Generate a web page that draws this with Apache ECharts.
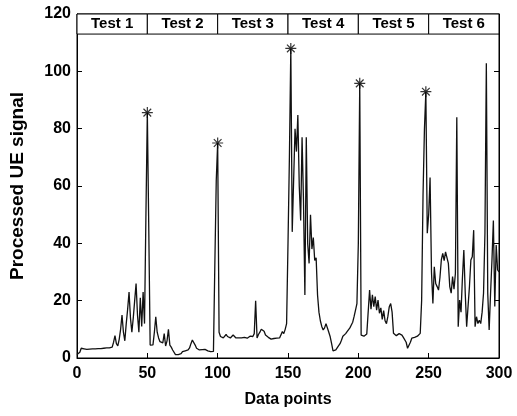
<!DOCTYPE html>
<html>
<head>
<meta charset="utf-8">
<script src="https://cdn.jsdelivr.net/npm/echarts@6/dist/echarts.min.js"></script>
<style>
html,body{margin:0;padding:0;background:#fff;}
#c{width:517px;height:416px;}
</style>
</head>
<body>
<div id="c"></div>
<script>
// Processed UE signal, one value per data point (index 0..300)
var signal = [
  // 0-52 (Test 1)
  1.2,1.5,2.0,3.4,3.8,3.2,2.9,3.0,3.1,3.1,
  3.2,3.2,3.3,3.2,3.3,3.3,3.4,3.3,3.4,3.4,
  3.4,3.5,3.4,3.5,3.6,3.8,5.5,7.8,5.0,4.2,
  6.5,10,15,9,6,12,17,23,14,9,
  14,20,26,15,9,21,11,23,12,50,
  85.6,46,4.5,
  // 53-100 (Test 2)
  4.3,4.6,9,14.4,9,7,5.7,6,5.3,8.5,
  4.2,6,10,4.5,3.8,2.8,2.2,1.2,0.6,1.2,
  1.6,1.5,2.2,2.0,2.5,2.4,2.8,3.5,5,6.3,
  6.2,4.5,3.4,3.0,2.8,3.0,2.9,3.0,3.0,2.7,
  2.5,2.3,2.2,2.2,2.3,33,62,75,
  // 101-148 (Test 3)
  9,7.5,7.2,7.0,7.6,8.2,7.5,7.3,7.0,7.2,
  8.0,7.6,7.0,6.8,7.0,6.9,7.0,6.8,7.2,7.0,
  6.9,7.3,7.6,7.0,7.5,8.5,20,7,8.2,9,
  10,10.5,9.3,8,7.5,7.2,6.8,6.6,6.5,6.8,
  6.6,6.9,7.2,7.0,7.6,9.2,8.5,10,
  // 149-202 (Test 4)
  12,40,70,108,44,62,80,72,84.8,60,
  48,77,55,22,77,40,33,50,38,42,
  34,35,22,16,13,11,9.8,10.5,12,12.3,
  9,7.4,5,2.5,2.2,2.8,3.4,4.3,5,6.2,
  7.6,8,8.5,9.2,9.5,10.5,11.5,12.5,14.5,16.7,
  19,40,95.8,8,
  // 203-248 (Test 5)
  7.4,7.6,8,8.4,8.6,23.7,17,22,17.9,21.4,
  16.7,20.2,15.6,17.5,13.5,16.5,13,12,14.5,17.9,
  19,16,8.6,8,7.8,8.2,8.5,8.6,8,7.2,
  6.9,5.5,3.4,3,5.5,6.9,7,7.2,7.4,7.6,
  8,8.6,20,57,80,92.9,
  // 249-300 (Test 6)
  43.5,50,63,30,19,31.8,26,24.9,23.7,28,
  34.2,36.5,34,37,35,33,24.9,22.6,28.4,24,
  29.5,84,10.9,20.2,16,28,37.7,22.6,10.9,18,
  25,34.2,35.3,44.6,10.9,14.4,12,13.2,12,16,
  22.6,43.5,102.8,22.6,9.8,22.6,34.2,48,18,39.4,
  30.7,30
];
// starred peaks
var peakX = [50, 100, 152, 201, 248];
var peakY = [85.6, 75, 108, 95.8, 92.9];
// test bands across the top
var testNames = ['Test 1','Test 2','Test 3','Test 4','Test 5','Test 6'];
var testStart = [0, 50, 100, 150, 200, 250];
var testEnd = [50, 100, 150, 200, 250, 300];
var bandLow = 113, bandHigh = 120;
var xTicks = [0, 300, 50];
var yTicks = [0, 120, 20];

var FONT = '"Liberation Sans", Arial, Helvetica, sans-serif';
var lineData = signal.map(function (v, i) { return [i, v]; });
var peakData = peakX.map(function (x, i) { return [x, peakY[i]]; });
var bands = testNames.map(function (n, i) {
  return [{ name: n, xAxis: testStart[i], yAxis: bandLow }, { xAxis: testEnd[i], yAxis: bandHigh }];
});

var chart = echarts.init(document.getElementById('c'), null, { renderer: 'canvas' });
chart.setOption({
  animation: false,
  backgroundColor: '#fff',
  grid: { left: 77, right: 18, top: 14, bottom: 58, show: true, borderColor: '#000', borderWidth: 1, backgroundColor: 'transparent' },
  xAxis: {
    type: 'value', min: xTicks[0], max: xTicks[1], interval: xTicks[2],
    name: 'Data points', nameLocation: 'middle', nameGap: 34,
    nameTextStyle: { fontFamily: FONT, fontSize: 16, fontWeight: 'bold', color: '#000' },
    axisLine: { show: true, lineStyle: { color: '#000', width: 1 } },
    axisTick: { show: true, inside: true, length: 5, lineStyle: { color: '#000' } },
    axisLabel: { fontFamily: FONT, fontSize: 16, fontWeight: 'bold', color: '#000', margin: 8 },
    splitLine: { show: false }
  },
  yAxis: [{
    type: 'value', min: yTicks[0], max: yTicks[1], interval: yTicks[2],
    name: 'Processed UE signal', nameLocation: 'middle', nameGap: 50,
    nameTextStyle: { fontFamily: FONT, fontSize: 19, fontWeight: 'bold', color: '#000' },
    axisLine: { show: true, lineStyle: { color: '#000', width: 1 } },
    axisTick: { show: true, inside: true, length: 5, lineStyle: { color: '#000' } },
    axisLabel: { fontFamily: FONT, fontSize: 16, fontWeight: 'bold', color: '#000', margin: 6 },
    splitLine: { show: false }
  }, {
    type: 'value', position: 'right', min: yTicks[0], max: yTicks[1], interval: yTicks[2],
    axisLine: { show: true, lineStyle: { color: '#000', width: 1 } },
    axisTick: { show: true, inside: true, length: 5, lineStyle: { color: '#000' } },
    axisLabel: { show: false },
    splitLine: { show: false }
  }],
  series: [{
    type: 'line',
    data: lineData,
    showSymbol: false,
    symbol: 'none',
    lineStyle: { color: '#111', width: 1.3 },
    z: 3,
    markArea: {
      silent: true,
      itemStyle: { color: '#fff', borderColor: '#000', borderWidth: 1 },
      label: { show: true, position: 'inside', fontFamily: FONT, fontSize: 15, fontWeight: 'bold', color: '#000' },
      data: bands
    }
  }, {
    type: 'scatter',
    data: peakData,
    symbol: 'path://M0,5L10,5M5,0L5,10M1.5,1.5L8.5,8.5M8.5,1.5L1.5,8.5',
    symbolSize: 11,
    itemStyle: { color: 'none', borderColor: '#000', borderWidth: 1.2 },
    z: 4
  }]
});
</script>
</body>
</html>
